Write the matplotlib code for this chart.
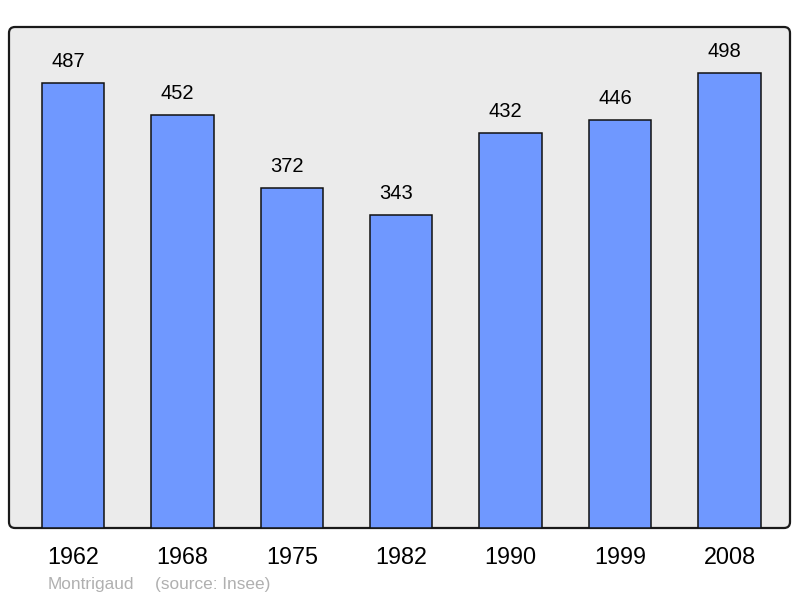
import matplotlib
matplotlib.use("Agg")
import matplotlib.pyplot as plt
from matplotlib.patches import FancyBboxPatch

years = ["1962", "1968", "1975", "1982", "1990", "1999", "2008"]
population = [487, 452, 372, 343, 432, 446, 498]
commune = "Montrigaud"
source = "(source: Insee)"

plt.rcParams['font.family'] = ['Liberation Sans', 'DejaVu Sans']

W, H = 800, 598
fig = plt.figure(figsize=(W / 100, H / 100), dpi=100)
fig.patch.set_facecolor("white")

# frame in pixels (top-origin)
fx0, fx1, fy0, fy1 = 9, 790, 27, 528
frame = FancyBboxPatch((fx0 / 100, (H - fy1) / 100), (fx1 - fx0) / 100, (fy1 - fy0) / 100,
                       boxstyle="round,pad=0,rounding_size=0.06",
                       transform=fig.dpi_scale_trans, facecolor="#ebebeb",
                       edgecolor="#1a1a1a", linewidth=1.6, zorder=-5)
fig.patches.append(frame)

ax = fig.add_axes([fx0 / W, (H - fy1) / H, (fx1 - fx0) / W, (fy1 - fy0) / H])
ax.set_zorder(2)
ax.set_facecolor("none")
for s in ax.spines.values():
    s.set_visible(False)

x = list(range(len(years)))
bars = ax.bar(x, population, width=0.57, color="#6f98ff", edgecolor="#111111",
              linewidth=1.1, zorder=2)
ax.set_xlim(-0.585, 6.553)
ax.set_ylim(0, 548.3)
ax.set_yticks([])
ax.set_xticks(x)
ax.set_xticklabels(years, fontsize=16.8)
ax.tick_params(axis="x", length=0, pad=13)

for xi, v in zip(x, population):
    ax.annotate(str(v), (xi, v), xytext=(-5, 12), textcoords="offset pixels",
                ha="center", va="bottom", fontsize=14.5)

fig.text(48 / W, 1 - 584 / H, commune, fontsize=12.4, color="#b0b0b0", va="center", ha="left")
fig.text(155 / W, 1 - 584 / H, source, fontsize=12.4, color="#b0b0b0", va="center", ha="left")

fig.savefig("out.png", dpi=100)
